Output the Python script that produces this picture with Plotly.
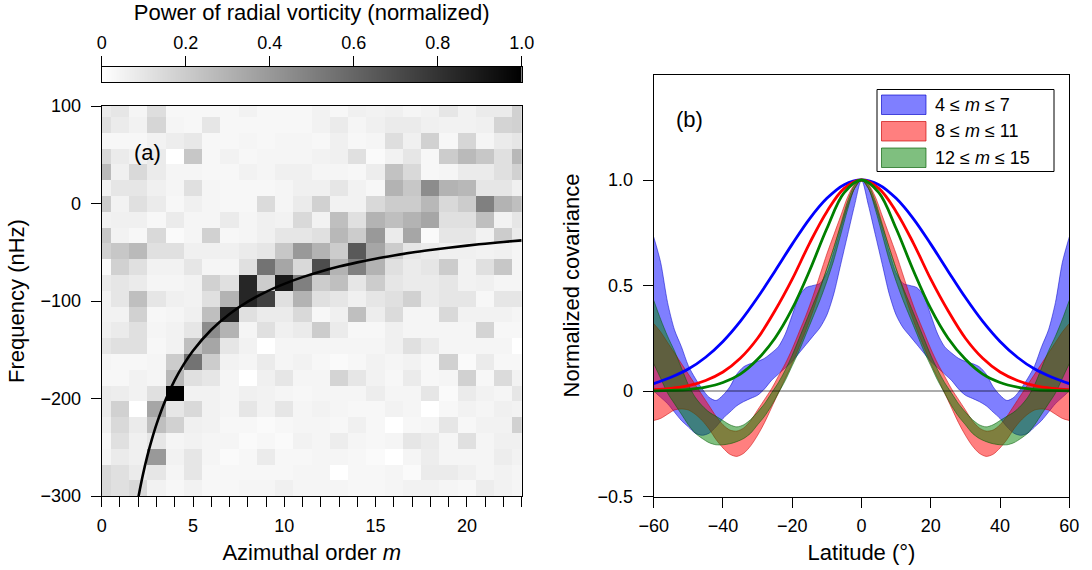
import plotly.graph_objects as go

FONT = "Liberation Sans, Arial, Helvetica, sans-serif"
W, H = 1092, 570

# ---------------- panel (a): power spectrum of radial vorticity ----------------
m_values = list(range(24))
# frequency bin centres (nHz), listed top row first
freq_bins = [96.9, 80.7, 64.5, 48.3, 32.1, 15.9, -0.3, -16.5, -32.7, -48.9,
             -65.1, -81.3, -97.5, -113.7, -129.9, -146.1, -162.3, -178.5,
             -194.7, -210.9, -227.1, -243.3, -259.5, -275.7, -291.9]
# normalised power, one row per frequency bin (top row first), columns m = 0..23
power = [
    [0.08,0.10,0.04,0.13,0.03,0.03,0.03,0.03,0.05,0.03,0.03,0.03,0.05,0.03,0.06,0.05,0.06,0.04,0.05,0.10,0.05,0.08,0.08,0.18],
    [0.12,0.08,0.05,0.16,0.04,0.03,0.10,0.03,0.03,0.03,0.03,0.03,0.05,0.08,0.04,0.06,0.08,0.08,0.06,0.05,0.05,0.06,0.17,0.18],
    [0.03,0.03,0.03,0.05,0.07,0.09,0.03,0.03,0.04,0.03,0.04,0.04,0.03,0.06,0.03,0.04,0.13,0.06,0.18,0.03,0.16,0.04,0.08,0.10],
    [0.15,0.08,0.05,0.08,0.00,0.22,0.03,0.05,0.03,0.04,0.04,0.04,0.05,0.06,0.12,0.02,0.05,0.10,0.03,0.20,0.27,0.22,0.12,0.28],
    [0.27,0.06,0.15,0.08,0.04,0.04,0.03,0.03,0.05,0.04,0.06,0.06,0.04,0.04,0.03,0.07,0.24,0.15,0.03,0.04,0.08,0.08,0.12,0.18],
    [0.05,0.10,0.10,0.06,0.04,0.12,0.04,0.03,0.03,0.03,0.04,0.06,0.06,0.10,0.05,0.03,0.30,0.22,0.45,0.30,0.28,0.10,0.10,0.06],
    [0.20,0.05,0.12,0.08,0.03,0.06,0.04,0.03,0.03,0.14,0.04,0.08,0.18,0.05,0.05,0.15,0.20,0.20,0.28,0.15,0.20,0.50,0.30,0.25],
    [0.05,0.06,0.06,0.03,0.08,0.04,0.04,0.08,0.04,0.06,0.05,0.15,0.05,0.25,0.12,0.30,0.25,0.30,0.35,0.12,0.12,0.25,0.05,0.10],
    [0.22,0.05,0.03,0.15,0.02,0.04,0.18,0.03,0.04,0.06,0.10,0.10,0.12,0.28,0.20,0.40,0.08,0.35,0.02,0.10,0.10,0.05,0.20,0.08],
    [0.18,0.22,0.27,0.12,0.12,0.06,0.06,0.06,0.08,0.10,0.22,0.40,0.30,0.20,0.65,0.35,0.20,0.10,0.08,0.06,0.06,0.05,0.06,0.04],
    [0.02,0.18,0.12,0.05,0.05,0.10,0.04,0.04,0.12,0.55,0.35,0.15,0.70,0.30,0.50,0.30,0.12,0.08,0.10,0.20,0.05,0.12,0.22,0.04],
    [0.08,0.10,0.08,0.04,0.04,0.05,0.18,0.12,0.85,0.20,0.90,0.50,0.20,0.25,0.10,0.20,0.10,0.08,0.08,0.10,0.05,0.06,0.04,0.04],
    [0.05,0.10,0.25,0.10,0.06,0.05,0.12,0.30,0.85,0.75,0.12,0.30,0.12,0.10,0.06,0.10,0.12,0.18,0.08,0.10,0.10,0.03,0.10,0.10],
    [0.05,0.05,0.18,0.03,0.04,0.06,0.25,0.85,0.12,0.08,0.08,0.15,0.03,0.06,0.25,0.07,0.14,0.04,0.04,0.15,0.05,0.05,0.05,0.04],
    [0.06,0.08,0.12,0.04,0.05,0.10,0.45,0.30,0.04,0.12,0.06,0.08,0.20,0.08,0.03,0.03,0.06,0.04,0.04,0.04,0.04,0.17,0.03,0.03],
    [0.10,0.12,0.12,0.03,0.05,0.25,0.35,0.10,0.05,0.00,0.04,0.04,0.04,0.04,0.04,0.04,0.06,0.12,0.08,0.04,0.04,0.04,0.04,0.00],
    [0.04,0.03,0.03,0.04,0.20,0.55,0.20,0.05,0.04,0.08,0.04,0.05,0.03,0.02,0.03,0.05,0.04,0.05,0.03,0.18,0.02,0.08,0.03,0.03],
    [0.03,0.03,0.05,0.04,0.28,0.12,0.10,0.04,0.00,0.06,0.10,0.04,0.04,0.17,0.10,0.05,0.03,0.08,0.03,0.04,0.18,0.03,0.14,0.05],
    [0.08,0.07,0.05,0.12,1.00,0.05,0.05,0.04,0.06,0.05,0.04,0.03,0.04,0.04,0.04,0.07,0.04,0.04,0.10,0.02,0.08,0.05,0.04,0.10],
    [0.08,0.18,0.00,0.35,0.10,0.15,0.05,0.04,0.10,0.05,0.10,0.04,0.05,0.04,0.03,0.03,0.05,0.04,0.00,0.03,0.05,0.04,0.06,0.05],
    [0.06,0.15,0.08,0.25,0.18,0.06,0.05,0.03,0.03,0.02,0.03,0.04,0.04,0.03,0.06,0.03,0.00,0.03,0.04,0.10,0.03,0.05,0.05,0.18],
    [0.03,0.12,0.06,0.10,0.04,0.05,0.04,0.04,0.02,0.03,0.02,0.05,0.04,0.07,0.04,0.03,0.04,0.10,0.08,0.04,0.12,0.04,0.06,0.06],
    [0.04,0.08,0.06,0.40,0.05,0.10,0.04,0.02,0.03,0.08,0.03,0.03,0.04,0.04,0.03,0.02,0.00,0.04,0.07,0.04,0.04,0.04,0.07,0.05],
    [0.15,0.12,0.08,0.10,0.04,0.10,0.03,0.03,0.03,0.03,0.03,0.04,0.04,0.00,0.03,0.03,0.04,0.02,0.08,0.08,0.06,0.04,0.05,0.04],
    [0.15,0.12,0.15,0.05,0.03,0.05,0.03,0.03,0.04,0.04,0.06,0.04,0.04,0.04,0.03,0.03,0.04,0.05,0.05,0.04,0.03,0.07,0.05,0.04],
]

# Rossby-wave dispersion relation, sampled in m
m_curve = [2.0, 2.25, 2.5, 2.75, 3.0, 3.5, 4.0, 4.5, 5.0, 6.0, 7.0, 8.0, 9.0, 10.0,
           11.0, 12.0, 13.0, 14.0, 15.0, 16.0, 17.0, 18.0, 19.0, 20.0, 21.0, 22.0, 23.0]
f_curve = [-302.0, -278.8, -258.9, -241.7, -226.5, -201.3, -181.2, -164.8, -151.0,
           -129.5, -113.3, -100.7, -90.6, -82.4, -75.5, -69.7, -64.7, -60.4, -56.6,
           -53.3, -50.3, -47.7, -45.3, -43.2, -41.2, -39.4, -37.8]

m_tick_text = [str(v) if v % 5 == 0 else "" for v in m_values]
freq_ticks = [-300, -200, -100, 0, 100]
freq_tick_text = ["\u2212300", "\u2212200", "\u2212100", "0", "100"]
# colour-bar tick positions double as the nodes of the grey ramp
cbar_ticks = [0, 0.2, 0.4, 0.6, 0.8, 1.0]
cbar_tick_text = ["0", "0.2", "0.4", "0.6", "0.8", "1.0"]

# ---------------- panel (b): latitudinal covariance ----------------
# absolute latitude from the equator to 60 deg; profiles are symmetric about the equator
abs_lat_band = list(range(0, 62, 2))
blue_lower = [1.00, 0.88, 0.74, 0.60, 0.46, 0.36, 0.30, 0.26, 0.22, 0.18, 0.14, 0.11, 0.08, 0.05, 0.01,
              -0.02, -0.035, -0.05, -0.07, -0.10, -0.13, -0.17, -0.20, -0.21, -0.20, -0.17, -0.14,
              -0.10, -0.06, -0.03, 0.00]
blue_upper = [1.00, 0.96, 0.88, 0.77, 0.66, 0.56, 0.51, 0.50, 0.49, 0.45, 0.36, 0.27, 0.21, 0.18, 0.155,
              0.14, 0.13, 0.115, 0.08, 0.02, -0.02, -0.045, -0.03, 0.01, 0.06, 0.12, 0.21, 0.29, 0.42,
              0.61, 0.73]
red_lower = [1.00, 0.96, 0.88, 0.78, 0.68, 0.58, 0.48, 0.38, 0.29, 0.21, 0.13, 0.06, -0.01, -0.08, -0.15,
             -0.21, -0.26, -0.295, -0.31, -0.30, -0.27, -0.23, -0.18, -0.14, -0.11, -0.09, -0.085,
             -0.09, -0.11, -0.13, -0.14]
red_upper = [1.00, 0.98, 0.92, 0.83, 0.74, 0.65, 0.55, 0.45, 0.36, 0.28, 0.20, 0.13, 0.07, 0.01, -0.04,
             -0.09, -0.14, -0.175, -0.19, -0.185, -0.16, -0.12, -0.07, -0.02, 0.03, 0.08, 0.13, 0.18,
             0.23, 0.28, 0.32]
green_lower = [1.00, 0.96, 0.86, 0.74, 0.62, 0.52, 0.43, 0.35, 0.27, 0.19, 0.12, 0.05, -0.01, -0.07, -0.12,
               -0.16, -0.20, -0.225, -0.24, -0.25, -0.255, -0.255, -0.245, -0.225, -0.20, -0.16, -0.11,
               -0.06, -0.01, 0.06, 0.13]
green_upper = [1.00, 0.975, 0.90, 0.79, 0.68, 0.58, 0.49, 0.41, 0.33, 0.25, 0.17, 0.10, 0.04, -0.01, -0.06,
               -0.10, -0.135, -0.16, -0.17, -0.16, -0.14, -0.12, -0.10, -0.07, -0.03, 0.03, 0.11, 0.19,
               0.26, 0.34, 0.43]

abs_lat_line = list(range(0, 65, 5))
blue_line = [1.0, 0.978, 0.913, 0.816, 0.696, 0.568, 0.443, 0.33, 0.235, 0.16, 0.104, 0.065, 0.035]
red_line = [1.0, 0.96, 0.85, 0.70, 0.53, 0.38, 0.25, 0.155, 0.09, 0.05, 0.025, 0.012, 0.006]
green_line = [1.0, 0.94, 0.77, 0.57, 0.39, 0.25, 0.15, 0.08, 0.04, 0.018, 0.007, 0.003, 0.001]

band_names = ["4 \u2264 <i>m</i> \u2264 7", "8 \u2264 <i>m</i> \u2264 11", "12 \u2264 <i>m</i> \u2264 15"]
lat_ticks = [-60, -40, -20, 0, 20, 40, 60]
lat_tick_text = ["\u221260", "\u221240", "\u221220", "0", "20", "40", "60"]
cov_ticks = [-0.5, 0, 0.5, 1.0]
cov_tick_text = ["\u22120.5", "0", "0.5", "1.0"]


def mirror(abs_lat, values):
    """Expand a profile given from the equator poleward into -60..60 deg."""
    lat = [-a for a in reversed(abs_lat[1:])] + list(abs_lat)
    val = list(reversed(values[1:])) + list(values)
    return lat, val


def px_x(x):
    return x / W


def px_y(y):
    return 1 - y / H


fig = go.Figure()

# spectrum
fig.add_trace(go.Heatmap(
    x=m_values, y=freq_bins[::-1], z=power[::-1],
    colorscale=[[0, "white"], [1, "black"]], zmin=0, zmax=1,
    xaxis="x", yaxis="y", showscale=False, hoverinfo="skip",
))
fig.add_trace(go.Scatter(
    x=m_curve, y=f_curve, mode="lines", line=dict(color="black", width=2.6, shape="spline"),
    xaxis="x", yaxis="y", showlegend=False, hoverinfo="skip",
))

# grey ramp shown above panel (a) as its colour scale
fig.add_trace(go.Heatmap(
    x=cbar_ticks, y=[0, 1], z=[cbar_ticks, cbar_ticks], zsmooth="best",
    colorscale=[[0, "white"], [1, "black"]], zmin=0, zmax=1,
    xaxis="x3", yaxis="y3", showscale=False, hoverinfo="skip",
))

band_colors = [
    ("rgba(0,0,255,0.5)", "rgba(0,0,200,0.65)"),
    ("rgba(255,0,0,0.5)", "rgba(200,0,0,0.65)"),
    ("rgba(0,128,0,0.5)", "rgba(0,90,0,0.65)"),
]
bands = [(blue_lower, blue_upper), (red_lower, red_upper), (green_lower, green_upper)]
for (lower, upper), (fill, edge), name in zip(bands, band_colors, band_names):
    lat, lo = mirror(abs_lat_band, lower)
    _, hi = mirror(abs_lat_band, upper)
    fig.add_trace(go.Scatter(
        x=lat, y=lo, mode="lines", line=dict(color=edge, width=0.8, shape="spline", smoothing=0.8),
        xaxis="x2", yaxis="y2", showlegend=False, hoverinfo="skip",
    ))
    fig.add_trace(go.Scatter(
        x=lat, y=hi, mode="lines", line=dict(color=edge, width=0.8, shape="spline", smoothing=0.8),
        fill="tonexty", fillcolor=fill, name=name, showlegend=False,
        xaxis="x2", yaxis="y2", hoverinfo="skip",
    ))

for values, color in [(blue_line, "#0000ff"), (red_line, "#ff0000"), (green_line, "#008000")]:
    lat, val = mirror(abs_lat_line, values)
    fig.add_trace(go.Scatter(
        x=lat, y=val, mode="lines", line=dict(color=color, width=2.8, shape="spline"),
        xaxis="x2", yaxis="y2", showlegend=False, hoverinfo="skip",
    ))

axis_common = dict(
    showline=True, linecolor="black", linewidth=1.2, mirror=True,
    ticks="outside", ticklen=10, tickwidth=1.2, tickcolor="black",
    showgrid=False, zeroline=False, automargin=False,
    tickfont=dict(family=FONT, size=18, color="black"),
)

# legend box for the three bands
legend_box = dict(type="rect", xref="paper", yref="paper",
                  x0=px_x(877), x1=px_x(1054), y0=px_y(171.5), y1=px_y(89.5),
                  line=dict(color="black", width=1), fillcolor="white", layer="above")
shapes = [
    dict(type="line", xref="x2", yref="y2", x0=-60, x1=60, y0=0, y1=0,
         line=dict(color="rgba(0,0,0,0.65)", width=1.2), layer="above"),
    legend_box,
]
annotations = [
    dict(text="(a)", x=px_x(132), y=px_y(138), xref="paper", yref="paper", showarrow=False,
         font=dict(family=FONT, size=22, color="black")),
    dict(text="(b)", x=px_x(689.5), y=px_y(105), xref="paper", yref="paper", showarrow=False,
         font=dict(family=FONT, size=22, color="black")),
]
row_tops = [95, 121.5, 148]
for (fill, edge), name, top in zip(band_colors, band_names, row_tops):
    shapes.append(dict(type="rect", xref="paper", yref="paper",
                       x0=px_x(881.5), x1=px_x(926), y0=px_y(top + 19.5), y1=px_y(top),
                       line=dict(color=edge, width=1), fillcolor=fill, layer="above"))
    annotations.append(dict(text=name, x=px_x(933), y=px_y(top + 9.8), xref="paper", yref="paper",
                            xanchor="left", yanchor="middle", showarrow=False,
                            font=dict(family=FONT, size=18, color="black")))

fig.update_layout(
    width=W, height=H, autosize=False,
    margin=dict(l=0, r=0, t=0, b=0, autoexpand=False),
    paper_bgcolor="white", plot_bgcolor="white",
    font=dict(family=FONT, size=18, color="black"),
    showlegend=False,
    xaxis=dict(domain=[px_x(101.7), px_x(521.7)], range=[0, 23], tickvals=m_values,
               ticktext=m_tick_text, anchor="y", ticklabelstandoff=3,
               title=dict(text="Azimuthal order <i>m</i>", standoff=9), **axis_common),
    yaxis=dict(domain=[px_y(496), px_y(106)], range=[-300, 100], tickvals=freq_ticks,
               ticktext=freq_tick_text, anchor="x", ticklabelstandoff=6,
               title=dict(text="Frequency (nHz)", standoff=9), **axis_common),
    xaxis3=dict(domain=[px_x(101.7), px_x(521.7)], range=[0, 1], tickvals=cbar_ticks,
                ticktext=cbar_tick_text, anchor="y3", side="top",
                showline=True, linecolor="black", linewidth=1, mirror=True,
                ticks="outside", ticklen=10, tickwidth=1, tickcolor="black",
                showgrid=False, zeroline=False, automargin=False,
                tickfont=dict(family=FONT, size=18, color="black"),
                title=dict(text="Power of radial vorticity (normalized)", standoff=9,
                           font=dict(family=FONT, size=22, color="black"))),
    yaxis3=dict(domain=[px_y(82), px_y(67)], range=[0, 1], anchor="x3",
                showline=True, linecolor="black", linewidth=1, mirror=True,
                ticks="", showticklabels=False, showgrid=False, zeroline=False,
                automargin=False),
    xaxis2=dict(domain=[px_x(653.7), px_x(1069.3)], range=[-60, 60], tickvals=lat_ticks,
                ticktext=lat_tick_text, anchor="y2", ticklabelstandoff=3,
                title=dict(text="Latitude (\u00b0)", standoff=9), **axis_common),
    yaxis2=dict(domain=[px_y(496.5), px_y(74.5)], range=[-0.5, 1.5], tickvals=cov_ticks,
                ticktext=cov_tick_text, anchor="x2", ticklabelstandoff=6,
                title=dict(text="Normalized covariance", standoff=11), **axis_common),
    shapes=shapes,
    annotations=annotations,
)

fig.write_html("out.html")
